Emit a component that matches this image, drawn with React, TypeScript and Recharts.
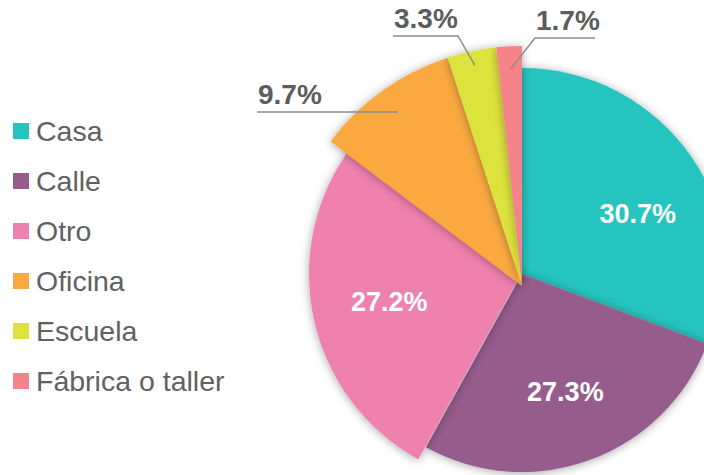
import { Cell, Legend, Pie, PieChart } from "recharts";

// Lugar donde ocurre — share of cases by place
const categories = ["Casa", "Calle", "Otro", "Oficina", "Escuela", "Fábrica o taller"];
const shares = [30.7, 27.3, 27.2, 9.7, 3.3, 1.7];
const labels = ["30.7%", "27.3%", "27.2%", "9.7%", "3.3%", "1.7%"];
const colors = ["#26c4be", "#955c8c", "#ee81ae", "#f9a93f", "#dde33c", "#f5848a"];

const data = categories.map((name, i) => ({ name, value: shares[i] }));

const FONT = '"Liberation Sans", Arial, Helvetica, sans-serif';
const INK = "#5c5c5c";
const RAD = Math.PI / 180;

// each slice sits in its own layer so it can have its own radius
const layers = [
  { show: [0], cx: 522, cy: 274, r: 206 },
  { show: [1], cx: 522, cy: 274, r: 198 },
  { show: [2], cx: 521, cy: 274, r: 212 },
  { show: [3, 4, 5], cx: 522, cy: 286, r: 240 },
];

// inner labels: small angle tweak (deg) so Casa's label sits like the original
const innerShift: Record<number, number> = { 0: -7 };

// leader lines for the thin slices: r = anchor radius factor, e = elbow, f = end of shelf
const outer: Record<number, { r: number; e?: [number, number]; f: number }> = {
  3: { r: 0.89, f: 257 },
  4: { r: 0.94, e: [458, 36], f: 393 },
  5: { r: 0.905, e: [535, 38], f: 595 },
};

function makeLabel(show: number[]) {
  return (p: any) => {
    const { cx, cy, midAngle, outerRadius, index } = p;
    if (!show.includes(index)) return null;
    const o = outer[index];
    if (!o) {
      const a = (midAngle + (innerShift[index] ?? 0)) * RAD;
      const r = outerRadius * 0.635;
      return (
        <text
          key={`in-${index}`}
          x={cx + r * Math.cos(-a)}
          y={cy + r * Math.sin(-a)}
          dy="0.35em"
          textAnchor="middle"
          fill="#fff"
          fontSize={27}
          fontWeight={700}
          fontFamily={FONT}
        >
          {labels[index]}
        </text>
      );
    }
    const px = cx + outerRadius * o.r * Math.cos(-midAngle * RAD);
    const py = cy + outerRadius * o.r * Math.sin(-midAngle * RAD);
    const e = o.e ?? [px, py];
    const pts = `${px},${py} ${e[0]},${e[1]} ${o.f},${e[1]}`;
    return (
      <g key={`out-${index}`}>
        <polyline points={pts} fill="none" stroke="#8c8c8c" strokeWidth={1.5} />
        <text
          x={Math.min(e[0], o.f) + 1}
          y={e[1] - 8}
          fill={INK}
          fontSize={28}
          fontWeight={700}
          fontFamily={FONT}
        >
          {labels[index]}
        </text>
      </g>
    );
  };
}

function LegendList() {
  return (
    <ul style={{ listStyle: "none", margin: 0, padding: 0, fontFamily: FONT }}>
      {categories.map((c, i) => (
        <li key={c} style={{ display: "flex", alignItems: "center", height: 50 }}>
          <span
            style={{
              width: 16,
              height: 16,
              background: colors[i],
              marginLeft: 13,
              marginRight: 7,
              flex: "none",
            }}
          />
          <span style={{ fontSize: 28.5, color: "#616161", whiteSpace: "nowrap" }}>{c}</span>
        </li>
      ))}
    </ul>
  );
}

export default function App() {
  return (
    <div style={{ position: "absolute", left: 0, top: 0, width: 704, height: 475, background: "#fff" }}>
      <PieChart width={704} height={475} margin={{ top: 0, right: 0, bottom: 0, left: 0 }}>
        <defs>
          <filter id="slice-shadow" x="-30%" y="-30%" width="160%" height="160%">
            <feDropShadow dx="0" dy="1" stdDeviation="5" floodColor="#000" floodOpacity="0.35" />
          </filter>
        </defs>
        {layers.map((l, li) => (
          <Pie
            key={li}
            data={data}
            dataKey="value"
            nameKey="name"
            cx={l.cx}
            cy={l.cy}
            outerRadius={l.r}
            startAngle={90}
            endAngle={-270}
            stroke="none"
            label={makeLabel(l.show)}
            labelLine={false}
            isAnimationActive={false}
          >
            {data.map((d, i) =>
              l.show.includes(i) ? (
                <Cell key={d.name} fill={colors[i]} filter="url(#slice-shadow)" />
              ) : (
                <Cell key={d.name} fill="none" />
              )
            )}
          </Pie>
        ))}
        <Legend
          content={<LegendList />}
          verticalAlign="bottom"
          wrapperStyle={{ left: 0, top: 106, bottom: "auto", width: 260, height: "auto" }}
        />
      </PieChart>
    </div>
  );
}
